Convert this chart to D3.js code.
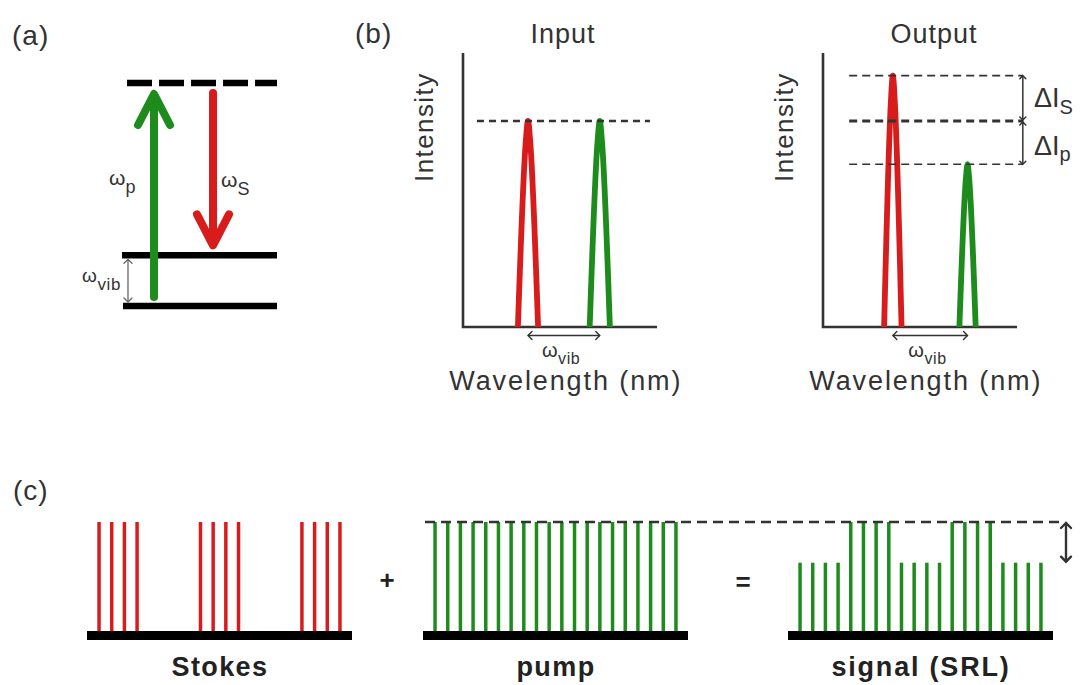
<!DOCTYPE html>
<html>
<head>
<meta charset="utf-8">
<script src="https://cdn.jsdelivr.net/npm/d3@7"></script>
<style>
  body { margin: 0; background: #fff; }
  svg { display: block; }
  text { font-family: "Liberation Sans", Arial, sans-serif; fill: #333; }
</style>
</head>
<body>
<script>
// ---- (a) energy-level diagram, energies in units of the vibrational quantum
const levelNames  = ["ground", "vibrational", "virtual"];
const levelEnergy = [0, 1, 4.4];

// ---- (b) spectra: wavelength (arb. units), intensity relative to the input level
const beamNames       = ["Stokes", "pump"];
const inputCenter     = [3.35, 7.05];
const inputWidth      = [0.52, 0.52];
const inputIntensity  = [1.0, 1.0];
const outputCenter    = [3.6, 7.45];
const outputWidth     = [0.45, 0.42];
const outputIntensity = [1.22, 0.79];

// ---- (c) pulse trains, amplitude per pulse slot
const stokesTrain = [1,1,1,1, 0,0,0,0, 1,1,1,1, 0,0,0,0, 1,1,1,1];
const pumpTrain   = [1,1,1,1, 1,1,1,1, 1,1,1,1, 1,1,1,1, 1,1,1,1];
const signalTrain = [0.63,0.63,0.63,0.63, 1,1,1,1, 0.63,0.63,0.63,0.63, 1,1,1,1, 0.63,0.63,0.63,0.63];
const trainLabels = ["Stokes", "pump", "signal (SRL)"];

const RED = "#d81c1c", GREEN = "#1d8c1d", INK = "#333";

const svg = d3.select("body").append("svg").attr("width", 1080).attr("height", 685);

// small helpers -------------------------------------------------------------
function chevron(g, x, y, dir, s, color, w) {
  let p;
  if (dir === "up")    p = [[x - s, y + s], [x, y], [x + s, y + s]];
  if (dir === "down")  p = [[x - s, y - s], [x, y], [x + s, y - s]];
  if (dir === "left")  p = [[x + s, y - s], [x, y], [x + s, y + s]];
  if (dir === "right") p = [[x - s, y - s], [x, y], [x - s, y + s]];
  g.append("path").attr("d", d3.line()(p)).attr("fill", "none")
    .attr("stroke", color).attr("stroke-width", w)
    .attr("stroke-linejoin", "miter").attr("stroke-linecap", "round");
}
function hDouble(g, x1, x2, y, color, w, s) {
  g.append("line").attr("x1", x1).attr("x2", x2).attr("y1", y).attr("y2", y)
    .attr("stroke", color).attr("stroke-width", w);
  chevron(g, x1, y, "left", s, color, w);
  chevron(g, x2, y, "right", s, color, w);
}
function vDouble(g, x, y1, y2, color, w, s) {
  g.append("line").attr("x1", x).attr("x2", x).attr("y1", y1).attr("y2", y2)
    .attr("stroke", color).attr("stroke-width", w);
  chevron(g, x, y1, "up", s, color, w);
  chevron(g, x, y2, "down", s, color, w);
}
function subLabel(g, x, y, main, sub, size, subSize, dy, extra) {
  const t = g.append("text").attr("x", x).attr("y", y)
    .attr("font-size", size).attr("letter-spacing", extra || 0);
  t.append("tspan").text(main);
  t.append("tspan").attr("font-size", subSize).attr("dy", dy).text(sub);
  return t;
}

// panel letters
[["(a)", 12, 45], ["(b)", 355, 43], ["(c)", 13, 500]].forEach(([s, x, y]) =>
  svg.append("text").attr("x", x).attr("y", y).attr("font-size", 28)
    .attr("letter-spacing", 1).text(s));

// ============================ (a) ===========================================
const gA = svg.append("g");
const yA = d3.scaleLinear().domain([0, 4.4]).range([306, 83]);
const levelX = [[123, 277], [122, 277], [127, 277]];
levelNames.forEach((name, i) => {
  gA.append("line")
    .attr("x1", levelX[i][0]).attr("x2", levelX[i][1])
    .attr("y1", yA(levelEnergy[i])).attr("y2", yA(levelEnergy[i]))
    .attr("stroke", "#000").attr("stroke-width", 6.5)
    .attr("stroke-dasharray", name === "virtual" ? "25,7" : null);
});

// pump photon: ground -> virtual ; Stokes photon: virtual -> vibrational
function bigArrow(x, fromE, toE, color, startGap, endGap) {
  const up = toE > fromE;
  const y0 = yA(fromE) + (up ? -startGap : startGap);
  const y1 = yA(toE) + (up ? endGap : -endGap);
  gA.append("line").attr("x1", x).attr("x2", x).attr("y1", y0).attr("y2", y1 + (up ? 3 : -3))
    .attr("stroke", color).attr("stroke-width", 8).attr("stroke-linecap", "round");
  const s = 16, h = 31;
  const pts = up ? [[x - s, y1 + h], [x, y1], [x + s, y1 + h]]
                 : [[x - s, y1 - h], [x, y1], [x + s, y1 - h]];
  gA.append("path").attr("d", d3.line()(pts)).attr("fill", "none")
    .attr("stroke", color).attr("stroke-width", 8)
    .attr("stroke-linejoin", "round").attr("stroke-linecap", "round");
}
bigArrow(154, levelEnergy[0], levelEnergy[2], GREEN, 9, 11);
bigArrow(213, levelEnergy[2], levelEnergy[1], RED, 10, 10);

vDouble(gA, 128, yA(levelEnergy[1]) + 4, yA(levelEnergy[0]) - 4, "#666", 1.3, 4);

subLabel(gA, 109, 185, "ω", "p", 21, 18, 8);
subLabel(gA, 221, 187, "ω", "S", 21, 18, 8);
subLabel(gA, 82, 282, "ω", "vib", 19, 17, 8, 0.6);

// ============================ (b) ===========================================
const yB = d3.scaleLinear().domain([0, 1.33]).range([327, 53]);
const peakLine = d3.line().curve(d3.curveMonotoneX);

function spectrum(x0, title, centers, widths, heights, titleX, intX) {
  const g = svg.append("g");
  const x = d3.scaleLinear().domain([0, 10]).range([x0, x0 + 194]);

  g.append("text").attr("x", titleX).attr("y", 43).attr("text-anchor", "middle")
    .attr("font-size", 27).attr("letter-spacing", 1).text(title);
  g.append("text").attr("transform", `translate(${intX},${yB(0.97)}) rotate(-90)`)
    .attr("text-anchor", "middle").attr("font-size", 26).attr("letter-spacing", 1.4)
    .text("Intensity");

  // axes (no ticks)
  g.append("path")
    .attr("d", `M${x(0)},${yB(1.33)}V${yB(0)}H${x(10)}`)
    .attr("fill", "none").attr("stroke", INK).attr("stroke-width", 2.6);

  const colors = [RED, GREEN];
  beamNames.forEach((b, i) => {
    const c = centers[i], w = widths[i], h = heights[i];
    g.append("path")
      .attr("d", peakLine([
        [x(c - w), yB(0)],
        [x(c - 0.22 * w), yB(0.9 * h)],
        [x(c), yB(h)],
        [x(c + 0.22 * w), yB(0.9 * h)],
        [x(c + w), yB(0)]
      ]))
      .attr("fill", "none").attr("stroke", colors[i]).attr("stroke-width", 5.8)
      .attr("stroke-linejoin", "round");
  });

  hDouble(g, x(centers[0]), x(centers[1]), yB(0) + 8.5, INK, 1.4, 4);
  subLabel(g, (x(centers[0]) + x(centers[1])) / 2 - 22, 357, "ω", "vib", 20, 16, 7, 0.6);
  g.append("text").attr("x", x(5.3)).attr("y", 390).attr("text-anchor", "middle")
    .attr("font-size", 27).attr("letter-spacing", 1.9).text("Wavelength (nm)");
  return { g, x };
}

const inP = spectrum(463, "Input", inputCenter, inputWidth, inputIntensity, 563, 433);
inP.g.append("line")
  .attr("x1", inP.x(0.72)).attr("x2", inP.x(9.64))
  .attr("y1", yB(inputIntensity[0])).attr("y2", yB(inputIntensity[0]))
  .attr("stroke", INK).attr("stroke-width", 2.6).attr("stroke-dasharray", "7,5");

const outP = spectrum(823, "Output", outputCenter, outputWidth, outputIntensity, 934, 793);
// reference levels: Stokes after gain, input level, pump after loss
[[outputIntensity[0], 1.6], [inputIntensity[0], 2.8], [outputIntensity[1], 1.6]].forEach(([v, w]) => {
  outP.g.append("line")
    .attr("x1", outP.x(1.35)).attr("x2", outP.x(10.3))
    .attr("y1", yB(v)).attr("y2", yB(v))
    .attr("stroke", INK).attr("stroke-width", w).attr("stroke-dasharray", "8,5");
});
const bx = outP.x(10.3);
outP.g.append("line").attr("x1", bx).attr("x2", bx)
  .attr("y1", yB(outputIntensity[0])).attr("y2", yB(outputIntensity[1]))
  .attr("stroke", INK).attr("stroke-width", 1.5);
[[yB(outputIntensity[0]), "up"], [yB(inputIntensity[0]) - 1, "down"],
 [yB(inputIntensity[0]) + 1, "up"], [yB(outputIntensity[1]), "down"]].forEach(([y, d]) =>
  chevron(outP.g, bx, y, d, 3, INK, 1.5));
subLabel(outP.g, 1034, 107, "ΔI", "S", 27, 20, 7);
subLabel(outP.g, 1034, 155, "ΔI", "p", 27, 20, 6);

// ============================ (c) ===========================================
const yC = d3.scaleLinear().domain([0, 1]).range([632, 522]);
const trains = [stokesTrain, pumpTrain, signalTrain];
const trainColors = [RED, GREEN, GREEN];
const trainX0 = [87, 423, 788];
const labelY = 676;

trains.forEach((train, k) => {
  const g = svg.append("g");
  const slots = train.map((_, i) => i);
  const x = d3.scalePoint().domain(slots).range([trainX0[k], trainX0[k] + 265]).padding(0.95);
  const pulses = train.map((amp, slot) => ({ slot, amp })).filter(d => d.amp > 0);

  g.selectAll("line").data(pulses).join("line")
    .attr("x1", d => x(d.slot)).attr("x2", d => x(d.slot))
    .attr("y1", yC(0)).attr("y2", d => yC(d.amp))
    .attr("stroke", trainColors[k]).attr("stroke-width", 3.5);

  g.append("rect").attr("x", trainX0[k]).attr("y", yC(0) - 1)
    .attr("width", 265).attr("height", 9).attr("fill", "#000");
  g.append("text").attr("x", trainX0[k] + 133).attr("y", labelY)
    .attr("text-anchor", "middle").attr("font-size", 27).attr("font-weight", "bold")
    .attr("letter-spacing", k === 2 ? 1.8 : 1.4).style("fill", "#222").text(trainLabels[k]);
});

// full-pump reference and modulation depth
svg.append("line").attr("x1", 425).attr("x2", 1062)
  .attr("y1", yC(1)).attr("y2", yC(1))
  .attr("stroke", INK).attr("stroke-width", 2.4).attr("stroke-dasharray", "10,6");
vDouble(svg, 1066, yC(1) + 1, yC(d3.min(signalTrain)) - 1, INK, 2.4, 5);

svg.append("text").attr("x", 387).attr("y", 589).attr("text-anchor", "middle")
  .attr("font-size", 26).attr("font-weight", "bold").style("fill", "#222").text("+");
svg.append("text").attr("x", 743).attr("y", 591).attr("text-anchor", "middle")
  .attr("font-size", 26).attr("font-weight", "bold").style("fill", "#222").text("=");
</script>
</body>
</html>
